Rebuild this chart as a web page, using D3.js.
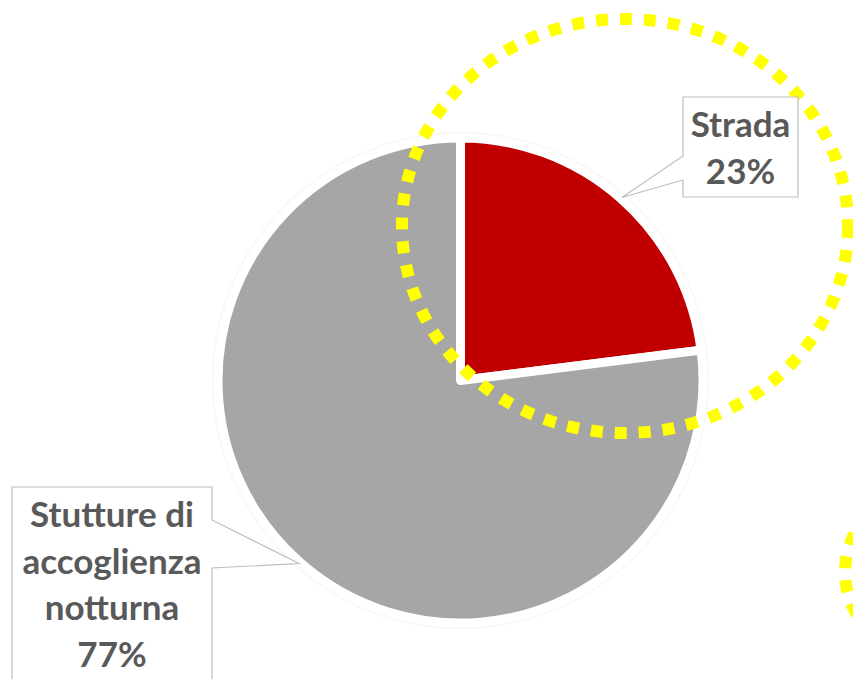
<!DOCTYPE html>
<html>
<head>
<meta charset="utf-8">
<script src="https://cdn.jsdelivr.net/npm/d3@7"></script>
<style>
  body { margin: 0; background: #fff; }
  svg { display: block; }
  .lbl { font-family: Lato, "Open Sans", sans-serif; font-weight: 700; font-size: 35px; fill: #595959; }
</style>
</head>
<body>
<svg id="chart"></svg>
<script>
// data
let categories = ['Strada', 'Stutture di accoglienza notturna'];
let values = [23, 77];
let colors = ['#c00000', '#a6a6a6'];
// label lines as shown in the callouts
let labelLines = [['Strada'], ['Stutture di', 'accoglienza', 'notturna']];

function makeChart() {
  let w = 853;
  let h = 679;

  let svg = d3.select('#chart')
    .attr('width', w)
    .attr('height', h);

  let cx = 460.5;
  let cy = 380.5;
  let r = 242.5;

  let pie = d3.pie().sort(null).value((d) => d.value);
  let arcs = pie(categories.map((c, i) => ({ name: c, value: values[i], color: colors[i] })));

  let arc = d3.arc().innerRadius(0).outerRadius(r);

  let g = svg.append('g').attr('transform', `translate(${cx},${cy})`);

  // faint halo round the pie
  g.append('circle')
    .attr('r', r + 5)
    .attr('fill', 'none')
    .attr('stroke', '#f7f7f7')
    .attr('stroke-width', 2);

  g.selectAll('path.slice')
    .data(arcs)
    .enter()
    .append('path')
    .attr('class', 'slice')
    .attr('d', arc)
    .attr('fill', (d) => d.data.color)
    .attr('stroke', '#fff')
    .attr('stroke-width', 9)
    .attr('stroke-linejoin', 'round');

  // yellow dotted highlight rings
  svg.append('ellipse')
    .attr('cx', 625).attr('cy', 226)
    .attr('rx', 223).attr('ry', 207)
    .attr('fill', 'none')
    .attr('stroke', '#ffff00')
    .attr('stroke-width', 12)
    .attr('stroke-dasharray', '12 12');

  svg.append('circle')
    .attr('cx', 927).attr('cy', 572)
    .attr('r', 82)
    .attr('fill', 'none')
    .attr('stroke', '#ffff00')
    .attr('stroke-width', 12)
    .attr('stroke-dasharray', '12 12')
    .attr('stroke-dashoffset', 3);

  // callout tip sits on the outer edge at the middle of each slice
  function tip(d) {
    let a = (d.startAngle + d.endAngle) / 2;
    return [cx + 244 * Math.sin(a), cy - 244 * Math.cos(a)];
  }

  // callout boxes (layout only)
  let boxes = [
    { x0: 683, y0: 97, x1: 798, y1: 197, side: 'left', n0: 156, n1: 180, tx: 740.5, ty: 137 },
    { x0: 12, y0: 487, x1: 212, y1: 700, side: 'right', n0: 520, n1: 568, tx: 112, ty: 527 }
  ];

  arcs.forEach((d, i) => {
    let b = boxes[i];
    let t = tip(d);
    let p = d3.path();
    if (b.side === 'left') {
      p.moveTo(b.x0, b.y0);
      p.lineTo(b.x1, b.y0);
      p.lineTo(b.x1, b.y1);
      p.lineTo(b.x0, b.y1);
      p.lineTo(b.x0, b.n1);
      p.lineTo(t[0], t[1]);
      p.lineTo(b.x0, b.n0);
      p.closePath();
    } else {
      p.moveTo(b.x0, b.y0);
      p.lineTo(b.x1, b.y0);
      p.lineTo(b.x1, b.n0);
      p.lineTo(t[0], t[1]);
      p.lineTo(b.x1, b.n1);
      p.lineTo(b.x1, b.y1);
      p.lineTo(b.x0, b.y1);
      p.closePath();
    }
    svg.append('path')
      .attr('d', p.toString())
      .attr('fill', '#fff')
      .attr('stroke', '#bfbfbf')
      .attr('stroke-width', 1.2);

    let lines = labelLines[i].concat([values[i] + '%']);
    let txt = svg.append('text')
      .attr('class', 'lbl')
      .attr('text-anchor', 'middle');
    lines.forEach((l, j) => {
      txt.append('tspan')
        .attr('x', b.tx)
        .attr('y', b.ty + j * 46.5)
        .text(l);
    });
  });
}

makeChart();
</script>
</body>
</html>
